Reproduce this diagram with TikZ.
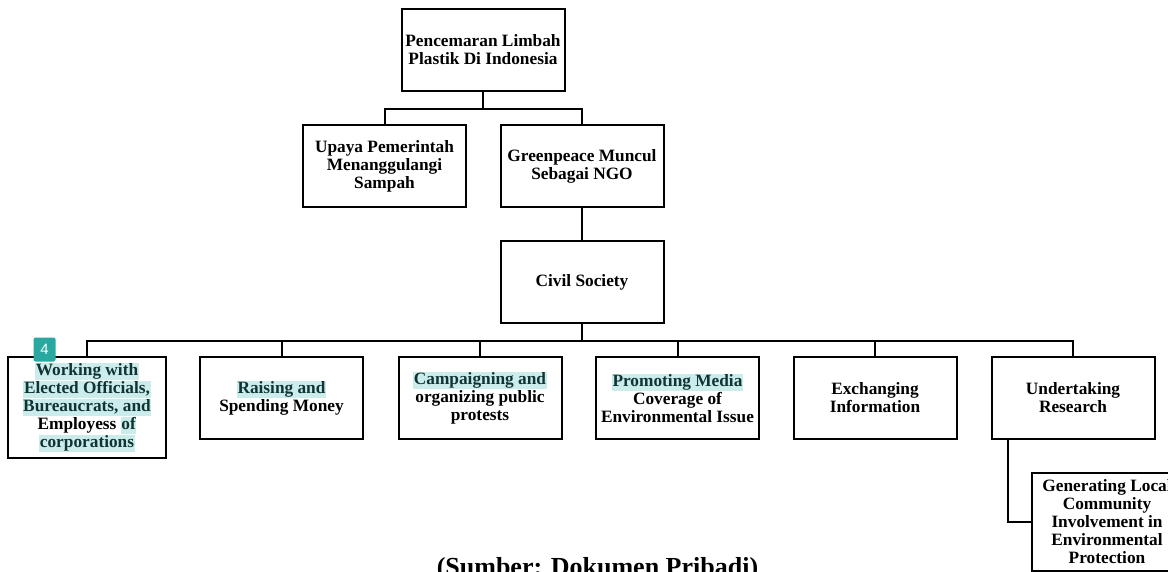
\documentclass[tikz,border=0pt]{standalone}
\usepackage{fontspec}
\setmainfont{Liberation Serif}
\newfontfamily\badgefont{Liberation Sans}
\usepackage{xcolor}
\usepackage{tikz}
\definecolor{HiCyan}{RGB}{204,236,236}
\definecolor{HiInk}{RGB}{16,52,52}
\definecolor{BadgeTeal}{RGB}{40,168,160}
\newcommand{\hl}[1]{{\setlength{\fboxsep}{0.6pt}\colorbox{HiCyan}{\color{HiInk}\vphantom{Ay,}#1}}}

\begin{document}
\begin{tikzpicture}
  [
    x=1pt, y=1pt,
    Box/.style={rectangle, draw=black, fill=white, line width=2pt, minimum width=163pt, minimum height=82pt, align=center, inner sep=2pt, font=\bfseries\fontsize{17.3}{18}\selectfont},
    TallBox/.style={Box, minimum width=158pt, minimum height=101pt},
    Link/.style={draw, line width=2pt},
    Badge/.style={rectangle, rounded corners=2pt, fill=BadgeTeal, text=white, minimum width=22pt, minimum height=24pt, inner sep=0pt, font=\badgefont\fontsize{15}{15}\selectfont}
  ]
  \useasboundingbox (0, 0) rectangle (1168, -572);
  \fill[white] (0, 0) rectangle (1168, -572);

  % Nodes
  \node[Box] (limbah) at(483, -50) {Pencemaran Limbah\\Plastik Di Indonesia};

  \node[Box] (upaya) at(384.5, -166) {Upaya Pemerintah\\Menanggulangi\\Sampah};

  \node[Box] (green) at(582, -166) {Greenpeace Muncul\\Sebagai NGO};

  \node[Box] (civil) at(582, -282) {Civil Society};

  \node[TallBox] (working) at(87, -407.5) {\hl{Working with}\\\hl{Elected Officials,}\\\hl{Bureaucrats, and}\\Employess \hl{of}\\\hl{corporations}};

  \node[Box] (raising) at(281.5, -398) {\hl{Raising and}\\Spending Money};

  \node[Box] (campaign) at(480, -398) {\hl{Campaigning and}\\organizing public\\protests};

  \node[Box] (media) at(677.5, -398) {\hl{Promoting Media}\\Coverage of\\Environmental Issue};

  \node[Box] (exchange) at(875, -398) {Exchanging\\Information};

  \node[Box] (research) at(1073, -398) {Undertaking\\Research};

  \node[Box, minimum width=150pt, minimum height=98pt] (local) at(1107, -522) {Generating Local\\Community\\Involvement in\\Environmental\\Protection};

  \node[font=\bfseries\fontsize{26}{28}\selectfont, anchor=base] (source) at(597.5, -575) {(Sumber: Dokumen Pribadi)};

  \node[Badge] (mark) at(44.5, -349.5) {4};

  % Lines
  \path [Link] (limbah.south) -- ++(0, -17) -| (upaya.north);
  \path [Link] (limbah.south) -- ++(0, -17) -| (green.north);
  \path [Link] (green.south) -- (civil.north);
  \foreach \child in {working, raising, campaign, media, exchange, research}
    \path [Link] (civil.south) -- ++(0, -17) -| (\child.north);
  \path [Link] ([xshift=-65pt]research.south) |- (local.west);

\end{tikzpicture}
\end{document}
